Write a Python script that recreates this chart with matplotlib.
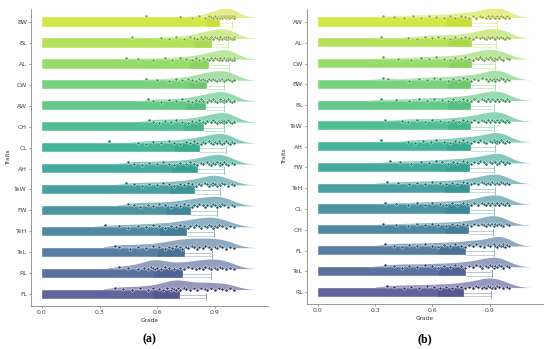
import numpy as np
import matplotlib
matplotlib.use('Agg')
import matplotlib.pyplot as plt
from matplotlib import colors as mcolors

# ---- panel (a) ----
traits_a = ['BW', 'BL', 'AL', 'CW', 'AW', 'CH', 'CL', 'AH', 'TeW', 'FW', 'TeH', 'TeL', 'RL', 'FL']
mean_a = [0.926, 0.884, 0.872, 0.858, 0.853, 0.845, 0.825, 0.812, 0.796, 0.779, 0.754, 0.746, 0.733, 0.718]
sd_a = [0.066, 0.087, 0.103, 0.091, 0.096, 0.105, 0.132, 0.135, 0.130, 0.133, 0.141, 0.140, 0.148, 0.139]
grades_a = {
    'BW': [0.54, 0.72, 0.78, 0.82, 0.85, 0.87, 0.88, 0.89, 0.90, 0.91, 0.92, 0.93, 0.93, 0.94, 0.94,
           0.95, 0.95, 0.96, 0.96, 0.97, 0.97, 0.97, 0.98, 0.98, 0.98, 0.99, 0.99, 1.0, 1.0, 1.0],
    'BL': [0.47, 0.62, 0.66, 0.70, 0.74, 0.77, 0.79, 0.81, 0.83, 0.84, 0.85, 0.86, 0.87, 0.88, 0.89,
           0.90, 0.91, 0.92, 0.93, 0.94, 0.95, 0.95, 0.96, 0.96, 0.97, 0.97, 0.98, 0.99, 1.0, 1.0],
    'AL': [0.44, 0.50, 0.58, 0.64, 0.68, 0.72, 0.75, 0.78, 0.80, 0.82, 0.84, 0.86, 0.87, 0.88, 0.89,
           0.90, 0.91, 0.92, 0.93, 0.94, 0.95, 0.96, 0.96, 0.97, 0.97, 0.98, 0.98, 0.99, 1.0, 1.0],
    'CW': [0.54, 0.60, 0.66, 0.70, 0.73, 0.76, 0.78, 0.80, 0.82, 0.83, 0.84, 0.85, 0.86, 0.87, 0.88,
           0.89, 0.90, 0.91, 0.92, 0.93, 0.94, 0.95, 0.95, 0.96, 0.96, 0.97, 0.98, 0.99, 1.0, 1.0],
    'AW': [0.55, 0.58, 0.62, 0.66, 0.70, 0.73, 0.76, 0.78, 0.80, 0.82, 0.83, 0.84, 0.86, 0.87, 0.88,
           0.89, 0.90, 0.91, 0.92, 0.93, 0.93, 0.94, 0.95, 0.95, 0.96, 0.97, 0.98, 0.99, 1.0, 1.0],
    'CH': [0.56, 0.58, 0.61, 0.64, 0.67, 0.70, 0.73, 0.76, 0.78, 0.80, 0.82, 0.84, 0.85, 0.86, 0.88,
           0.89, 0.90, 0.91, 0.92, 0.93, 0.94, 0.94, 0.95, 0.95, 0.96, 0.97, 0.98, 0.99, 1.0, 1.0],
    'CL': [0.35, 0.50, 0.54, 0.58, 0.62, 0.66, 0.69, 0.72, 0.75, 0.77, 0.79, 0.81, 0.83, 0.84, 0.85,
           0.87, 0.88, 0.89, 0.90, 0.91, 0.92, 0.93, 0.94, 0.95, 0.95, 0.96, 0.97, 0.98, 0.99, 1.0],
    'AH': [0.45, 0.48, 0.52, 0.56, 0.60, 0.63, 0.66, 0.69, 0.72, 0.75, 0.77, 0.79, 0.81, 0.83, 0.84,
           0.86, 0.87, 0.88, 0.89, 0.90, 0.91, 0.92, 0.93, 0.93, 0.94, 0.95, 0.96, 0.97, 0.99, 1.0],
    'TeW': [0.44, 0.48, 0.52, 0.56, 0.60, 0.63, 0.66, 0.69, 0.72, 0.74, 0.76, 0.78, 0.80, 0.82, 0.83,
            0.85, 0.86, 0.87, 0.88, 0.89, 0.89, 0.90, 0.91, 0.92, 0.93, 0.94, 0.95, 0.97, 0.99, 1.0],
    'FW': [0.45, 0.48, 0.51, 0.55, 0.58, 0.61, 0.64, 0.67, 0.70, 0.72, 0.74, 0.76, 0.78, 0.79, 0.81,
           0.82, 0.84, 0.85, 0.86, 0.88, 0.89, 0.90, 0.91, 0.92, 0.93, 0.94, 0.95, 0.97, 0.99, 1.0],
    'TeH': [0.33, 0.40, 0.45, 0.50, 0.54, 0.58, 0.61, 0.64, 0.67, 0.70, 0.72, 0.74, 0.76, 0.77, 0.79,
            0.80, 0.82, 0.83, 0.85, 0.86, 0.87, 0.88, 0.89, 0.90, 0.91, 0.92, 0.94, 0.96, 0.98, 1.0],
    'TeL': [0.38, 0.40, 0.46, 0.50, 0.54, 0.58, 0.61, 0.64, 0.66, 0.68, 0.70, 0.72, 0.73, 0.75, 0.76,
            0.78, 0.79, 0.81, 0.82, 0.84, 0.85, 0.87, 0.88, 0.90, 0.91, 0.93, 0.94, 0.96, 0.98, 1.0],
    'RL': [0.40, 0.45, 0.50, 0.53, 0.55, 0.57, 0.58, 0.59, 0.60, 0.62, 0.64, 0.66, 0.69, 0.72, 0.74,
           0.76, 0.78, 0.80, 0.82, 0.84, 0.85, 0.87, 0.88, 0.90, 0.91, 0.93, 0.94, 0.96, 0.98, 1.0],
    'FL': [0.38, 0.42, 0.47, 0.51, 0.55, 0.58, 0.61, 0.63, 0.65, 0.67, 0.68, 0.69, 0.70, 0.71, 0.72,
           0.74, 0.75, 0.77, 0.79, 0.81, 0.83, 0.85, 0.86, 0.88, 0.90, 0.92, 0.94, 0.96, 0.98, 1.0],
}

# ---- panel (b) ----
traits_b = ['AW', 'AL', 'CW', 'BW', 'BL', 'TeW', 'AH', 'FW', 'TeH', 'CL', 'CH', 'FL', 'TeL', 'RL']
mean_b = [0.807, 0.807, 0.806, 0.804, 0.802, 0.802, 0.800, 0.797, 0.797, 0.795, 0.792, 0.778, 0.775, 0.766]
sd_b = [0.131, 0.124, 0.120, 0.122, 0.122, 0.122, 0.125, 0.125, 0.129, 0.129, 0.124, 0.143, 0.139, 0.138]
grades_b = {
    'AW': [0.34, 0.40, 0.45, 0.50, 0.54, 0.58, 0.62, 0.66, 0.69, 0.72, 0.75, 0.77, 0.79, 0.81, 0.83,
           0.85, 0.86, 0.88, 0.89, 0.90, 0.91, 0.92, 0.93, 0.94, 0.95, 0.96, 0.97, 0.98, 0.99, 1.0],
    'AL': [0.33, 0.47, 0.52, 0.56, 0.60, 0.63, 0.66, 0.69, 0.72, 0.75, 0.77, 0.79, 0.81, 0.83, 0.85,
           0.86, 0.87, 0.88, 0.89, 0.90, 0.91, 0.92, 0.93, 0.94, 0.95, 0.96, 0.97, 0.98, 0.99, 1.0],
    'CW': [0.34, 0.42, 0.49, 0.54, 0.58, 0.62, 0.66, 0.69, 0.72, 0.75, 0.77, 0.79, 0.81, 0.83, 0.84,
           0.85, 0.86, 0.87, 0.88, 0.89, 0.90, 0.91, 0.92, 0.93, 0.94, 0.95, 0.96, 0.97, 0.99, 1.0],
    'BW': [0.34, 0.37, 0.48, 0.53, 0.57, 0.61, 0.64, 0.68, 0.71, 0.74, 0.76, 0.78, 0.80, 0.82, 0.84,
           0.86, 0.88, 0.89, 0.90, 0.91, 0.92, 0.92, 0.93, 0.94, 0.95, 0.96, 0.97, 0.98, 0.99, 1.0],
    'BL': [0.33, 0.41, 0.48, 0.53, 0.57, 0.61, 0.65, 0.68, 0.71, 0.74, 0.76, 0.78, 0.80, 0.82, 0.84,
           0.86, 0.87, 0.88, 0.89, 0.90, 0.91, 0.92, 0.93, 0.94, 0.95, 0.96, 0.97, 0.98, 0.99, 1.0],
    'TeW': [0.35, 0.44, 0.47, 0.52, 0.56, 0.60, 0.64, 0.68, 0.71, 0.74, 0.76, 0.78, 0.80, 0.82, 0.84,
            0.86, 0.87, 0.88, 0.89, 0.90, 0.91, 0.92, 0.93, 0.94, 0.95, 0.96, 0.97, 0.98, 0.99, 1.0],
    'AH': [0.33, 0.47, 0.51, 0.55, 0.59, 0.62, 0.66, 0.69, 0.72, 0.74, 0.76, 0.78, 0.80, 0.82, 0.84,
           0.85, 0.87, 0.88, 0.90, 0.91, 0.92, 0.93, 0.94, 0.94, 0.95, 0.96, 0.97, 0.98, 0.99, 1.0],
    'FW': [0.38, 0.43, 0.49, 0.54, 0.58, 0.62, 0.65, 0.68, 0.71, 0.73, 0.76, 0.78, 0.80, 0.82, 0.84,
           0.85, 0.87, 0.88, 0.90, 0.91, 0.92, 0.93, 0.94, 0.95, 0.95, 0.96, 0.97, 0.98, 0.99, 1.0],
    'TeH': [0.36, 0.42, 0.48, 0.52, 0.56, 0.60, 0.64, 0.67, 0.70, 0.73, 0.76, 0.78, 0.80, 0.82, 0.84,
            0.86, 0.87, 0.88, 0.89, 0.90, 0.91, 0.92, 0.93, 0.94, 0.95, 0.96, 0.97, 0.98, 0.99, 1.0],
    'CL': [0.35, 0.41, 0.47, 0.52, 0.56, 0.60, 0.64, 0.67, 0.70, 0.73, 0.76, 0.78, 0.80, 0.82, 0.84,
           0.86, 0.87, 0.88, 0.89, 0.90, 0.91, 0.92, 0.93, 0.94, 0.95, 0.96, 0.97, 0.98, 0.99, 1.0],
    'CH': [0.34, 0.41, 0.47, 0.52, 0.56, 0.60, 0.63, 0.67, 0.70, 0.73, 0.76, 0.78, 0.80, 0.82, 0.84,
           0.86, 0.87, 0.88, 0.89, 0.90, 0.91, 0.92, 0.92, 0.93, 0.94, 0.95, 0.96, 0.97, 0.99, 1.0],
    'FL': [0.35, 0.40, 0.44, 0.48, 0.52, 0.56, 0.60, 0.63, 0.66, 0.69, 0.72, 0.75, 0.77, 0.79, 0.81,
           0.83, 0.85, 0.87, 0.89, 0.90, 0.92, 0.93, 0.94, 0.95, 0.96, 0.97, 0.97, 0.98, 0.99, 1.0],
    'TeL': [0.35, 0.40, 0.44, 0.48, 0.52, 0.56, 0.60, 0.63, 0.66, 0.69, 0.72, 0.75, 0.77, 0.79, 0.81,
            0.83, 0.85, 0.86, 0.88, 0.89, 0.90, 0.91, 0.92, 0.93, 0.94, 0.95, 0.96, 0.97, 0.99, 1.0],
    'RL': [0.36, 0.40, 0.45, 0.49, 0.53, 0.57, 0.61, 0.64, 0.67, 0.70, 0.73, 0.75, 0.77, 0.79, 0.81,
           0.83, 0.84, 0.86, 0.87, 0.88, 0.89, 0.90, 0.91, 0.92, 0.93, 0.94, 0.95, 0.97, 0.99, 1.0],
}

xticks = [0.0, 0.3, 0.6, 0.9]
row_colors = plt.cm.viridis(np.linspace(0.92, 0.2, 14))


def kde(vals, grid, bw=0.05):
    v = np.asarray(vals)
    d = np.exp(-0.5 * ((grid[:, None] - v[None, :]) / bw) ** 2).sum(axis=1)
    return d / d.max()


def mix(c, w, amt):
    c = np.array(mcolors.to_rgb(c))
    w = np.array(mcolors.to_rgb(w))
    return tuple(c * (1 - amt) + w * amt)


def draw_panel(ax, traits, means, sds, grades):
    bh = 0.44
    for i, t in enumerate(traits):
        col = row_colors[i]
        base = mix(col, 'white', 0.17)
        # cloud (half violin above the bar)
        vals = grades[t]
        grid = np.linspace(min(vals) - 0.06, max(vals) + 0.11, 200)
        dens = kde(vals, grid) * 0.46
        top = i - bh / 2
        ax.fill_between(grid, top, top - dens, color=mix(col, 'white', 0.35),
                        lw=0, alpha=0.85, zorder=1)
        # bar
        ax.barh(i, means[i], height=bh, color=base, edgecolor='white', lw=0.3, zorder=2)
        # darker part of the sd box inside the bar
        ax.barh(i, sds[i], left=means[i] - sds[i], height=bh,
                color=mix(col, 'black', 0.1), lw=0, alpha=0.3, zorder=3)
        # sd whisker box outside the bar
        light = mix(col, 'white', 0.6)
        ax.plot([means[i], means[i] + sds[i]], [i + 0.04, i + 0.04], color=light, lw=0.6, zorder=3)
        ax.plot([means[i], means[i] + sds[i]], [i + bh / 2 - 0.02, i + bh / 2 - 0.02],
                color=light, lw=0.5, zorder=3)
        ax.plot([means[i] + sds[i]] * 2, [i - 0.06, i + bh / 2 + 0.05],
                color=mix(col, 'white', 0.5), lw=0.7, zorder=3)
        # points
        jit = np.array([((k * 7) % 5 - 2) * 0.03 for k in range(len(vals))])
        ax.scatter(vals, top - 0.02 + jit, s=5, color=mix(col, 'black', 0.25),
                   edgecolor='white', linewidths=0.35, zorder=4)

    ax.set_ylim(len(traits) - 1 + 0.57, -0.62)
    ax.set_xlim(-0.057, 1.178)
    ax.set_yticks(range(len(traits)))
    ax.set_yticklabels(traits)
    ax.set_xticks(xticks)
    ax.set_xticklabels(['%.1f' % v for v in xticks])
    ax.set_xlabel('Grade', fontsize=4.2, color='#333333', labelpad=2)
    ax.set_ylabel('Traits', fontsize=4.2, color='#333333', labelpad=2)
    ax.tick_params(labelsize=4.4, colors='#444444', length=1.5, width=0.4, pad=1.5)
    for s in ['top', 'right']:
        ax.spines[s].set_visible(False)
    for s in ['left', 'bottom']:
        ax.spines[s].set_color('#888888')
        ax.spines[s].set_linewidth(0.6)


fig = plt.figure(figsize=(5.5, 3.49), dpi=100)
ax_a = fig.add_axes([0.0564, 0.123, 0.431, 0.851])
ax_b = fig.add_axes([0.558, 0.129, 0.429, 0.845])
draw_panel(ax_a, traits_a, mean_a, sd_a, grades_a)
draw_panel(ax_b, traits_b, mean_b, sd_b, grades_b)

fig.text(0.272, 0.028, '(a)', ha='center', va='center', fontsize=8.5,
         fontweight='bold', family='Liberation Serif')
fig.text(0.772, 0.028, '(b)', ha='center', va='center', fontsize=8.5,
         fontweight='bold', family='Liberation Serif')

fig.savefig('out.png', dpi=100)
